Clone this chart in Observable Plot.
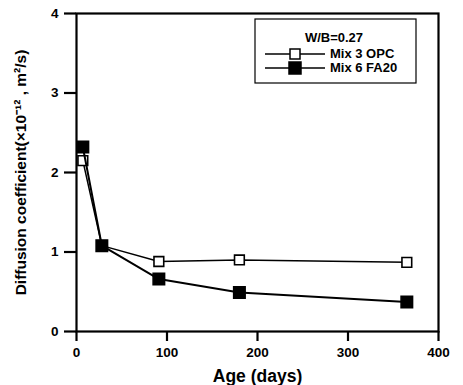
<!DOCTYPE html>
<html><head><meta charset="utf-8">
<script src="https://cdn.jsdelivr.net/npm/d3@7"></script>
<script src="https://cdn.jsdelivr.net/npm/@observablehq/plot@0.6"></script>
<style>
body{margin:0;background:#fff;}
#wrap{position:relative;width:463px;height:385px;font-family:"Liberation Sans",Arial,sans-serif;}
</style>
</head><body><div id="wrap"></div>
<script>
const ages = [7, 28, 91, 180, 365];
const opc = [2.15, 1.08, 0.88, 0.90, 0.87];
const fa20 = [2.32, 1.08, 0.66, 0.49, 0.37];
const seriesNames = ["Mix 3 OPC", "Mix 6 FA20"];
const legendTitle = "W/B=0.27";
const xTicks = [0, 100, 200, 300, 400];
const yTicks = [0, 1, 2, 3, 4];

const dOPC = ages.map((a, i) => ({age: a, d: opc[i]}));
const dFA = ages.map((a, i) => ({age: a, d: fa20[i]}));

const chart = Plot.plot({
  width: 463, height: 385,
  marginLeft: 76, marginRight: 25, marginTop: 13, marginBottom: 54,
  style: {fontFamily: "Liberation Sans, Arial, sans-serif", fontWeight: "bold", fontSize: "12px", background: "white"},
  x: {domain: [0, 400]},
  y: {domain: [0, 4]},
  marks: [
    Plot.frame({stroke: "black", strokeWidth: 2.2}),
    Plot.axisX({ticks: xTicks, tickFormat: d => String(d), tickSize: 10, tickPadding: 6, strokeWidth: 2.2, fontSize: 13.5, fontWeight: "bold",
      label: "Age (days)", labelAnchor: "center", labelArrow: "none", labelOffset: 50}),
    Plot.axisY({ticks: yTicks, tickFormat: d => String(d), tickSize: 12, tickPadding: 6, strokeWidth: 2.2, fontSize: 13.5, fontWeight: "bold",
      label: "Diffusion coefficient(×10⁻¹² , m²/s)", labelAnchor: "center", labelArrow: "none", labelOffset: 62}),
    Plot.line(dOPC, {x: "age", y: "d", stroke: "black", strokeWidth: 1.5}),
    Plot.dot(dOPC, {x: "age", y: "d", symbol: "square", r: 5.5, fill: "white", stroke: "black", strokeWidth: 1.6}),
    Plot.line(dFA, {x: "age", y: "d", stroke: "black", strokeWidth: 2}),
    Plot.dot(dFA, {x: "age", y: "d", symbol: "square", r: 6.5, fill: "black", stroke: "black"})
  ]
});
d3.select(chart).selectAll("g[aria-label='x-axis label'] text")
  .style("font-size", "17.5px").style("font-weight", "bold");
d3.select(chart).selectAll("g[aria-label='y-axis label'] text")
  .style("font-size", "15.5px").style("font-weight", "bold");
document.getElementById("wrap").appendChild(chart);

// legend box
const svg = d3.select(chart);
const lg = svg.append("g").attr("font-family", "Liberation Sans, Arial, sans-serif").attr("font-weight", "bold");
lg.append("rect").attr("x", 255).attr("y", 19).attr("width", 161).attr("height", 64)
  .attr("fill", "white").attr("stroke", "black").attr("stroke-width", 1.2);
lg.append("text").attr("x", 334).attr("y", 42).attr("text-anchor", "middle").attr("font-size", 13).text(legendTitle);
const rows = [{y: 54, fill: "white", r: 5, sw: 1.3}, {y: 68, fill: "black", r: 6, sw: 1.6}];
rows.forEach((row, i) => {
  lg.append("line").attr("x1", 265).attr("x2", 325).attr("y1", row.y).attr("y2", row.y)
    .attr("stroke", "black").attr("stroke-width", row.sw);
  lg.append("rect").attr("x", 295 - row.r).attr("y", row.y - row.r).attr("width", 2 * row.r).attr("height", 2 * row.r)
    .attr("fill", row.fill).attr("stroke", "black").attr("stroke-width", 1.5);
  lg.append("text").attr("x", 330).attr("y", row.y + 4).attr("text-anchor", "start").attr("font-size", 13).text(seriesNames[i]);
});
</script>
</body></html>
